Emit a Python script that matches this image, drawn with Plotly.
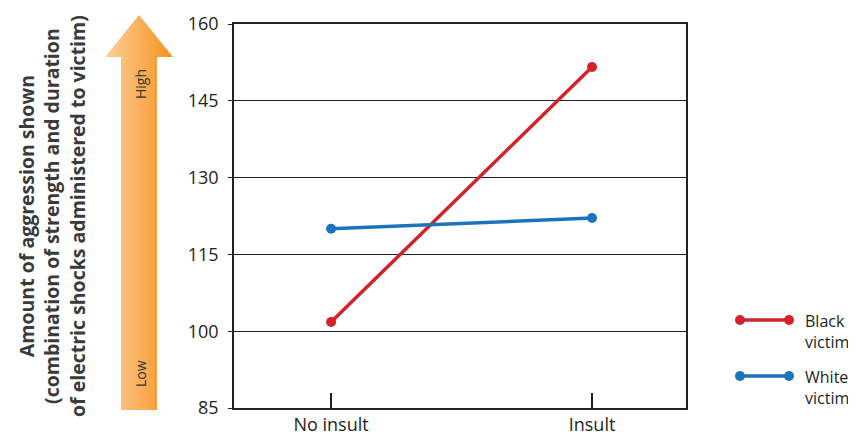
import base64
import plotly.graph_objects as go

conditions = ["No insult", "Insult"]
black_victim = [101.8, 151.6]
white_victim = [120.0, 122.1]
y_ticks = [85, 100, 115, 130, 145, 160]
series_names = ["Black<br>victim", "White<br>victim"]
series_colors = ["#d2232a", "#1c75bc"]

W, H = 856, 437
OFF = 8  # page body offset
# target plot area in screen pixels: x 234..686, y 24..408
L = 234 - OFF
T = 24 - OFF
PW, PH = 452, 384
R = W - L - PW
B = H - T - PH

def px(sx):
    return (sx - OFF - L) / PW

def py(sy):
    return (T + PH - (sy - OFF)) / PH

fig = go.Figure()
for name, vals, col in zip(series_names, [black_victim, white_victim], series_colors):
    fig.add_trace(go.Scatter(
        x=conditions, y=vals, mode="lines+markers", name=name,
        line=dict(color=col, width=3.5), marker=dict(color=col, size=10),
        showlegend=False, cliponaxis=False))

# Gradient arrow as SVG image
svg = ('<svg xmlns="http://www.w3.org/2000/svg" width="68" height="395" viewBox="0 0 68 395">'
       '<defs><linearGradient id="g" x1="0" y1="0" x2="1" y2="0">'
       '<stop offset="0" stop-color="#fdd09a"/><stop offset="1" stop-color="#f6921e"/>'
       '</linearGradient></defs>'
       '<polygon points="34,0 68,42 52,42 52,395 16,395 16,42 0,42" fill="url(#g)"/></svg>')
src = "data:image/svg+xml;base64," + base64.b64encode(svg.encode()).decode()
fig.add_layout_image(dict(source=src, xref="paper", yref="paper",
                          x=px(105), y=py(15), sizex=68 / PW, sizey=395 / PH,
                          xanchor="left", yanchor="top", sizing="stretch", layer="above"))

fig.add_annotation(text="High", xref="paper", yref="paper", x=px(140), y=py(84),
                   xanchor="center", yanchor="middle",
                   showarrow=False, textangle=-90, font=dict(size=14, color="#333333"))
fig.add_annotation(text="Low", xref="paper", yref="paper", x=px(140), y=py(374),
                   xanchor="center", yanchor="middle",
                   showarrow=False, textangle=-90, font=dict(size=14, color="#333333"))

fig.add_annotation(
    text="<b>Amount of aggression shown<br>(combination of strength and duration<br>of electric shocks administered to victim)</b>",
    xref="paper", yref="paper", x=px(52), y=py(216), xanchor="center", yanchor="middle",
    showarrow=False, textangle=-90,
    font=dict(size=19.5, color="#3a3a3a"), align="center")

# Custom legend
for i, (name, col) in enumerate(zip(series_names, series_colors)):
    ly = 320 + i * 56
    fig.add_shape(type="line", xref="paper", yref="paper", x0=px(740), x1=px(789),
                  y0=py(ly), y1=py(ly), line=dict(color=col, width=3.5))
    for cx in (740, 789):
        fig.add_shape(type="circle", xref="paper", yref="paper",
                      x0=px(cx - 5), x1=px(cx + 5), y0=py(ly - 5), y1=py(ly + 5),
                      fillcolor=col, line=dict(width=0))
    fig.add_annotation(text=name, xref="paper", yref="paper", x=px(803), y=py(ly - 12),
                       xanchor="left", yanchor="top", showarrow=False, align="left",
                       font=dict(size=16, color="#231f20"))

fig.update_layout(
    width=W, height=H, margin=dict(l=L, r=R, t=T, b=B, autoexpand=False),
    paper_bgcolor="white", plot_bgcolor="white",
    font=dict(family="Open Sans", color="#231f20"),
    xaxis=dict(type="category", range=[-0.372, 1.36], showgrid=False, automargin=False,
               ticks="inside", ticklen=15, tickwidth=1.5, tickcolor="#231f20",
               showline=True, linecolor="#231f20", linewidth=1.5, mirror=True,
               tickfont=dict(size=18), zeroline=False),
    yaxis=dict(range=[85, 160], tickvals=y_ticks, showgrid=True, gridcolor="#231f20",
               gridwidth=1.2, ticks="outside", ticklen=4, tickcolor="#231f20", automargin=False,
               showline=True, linecolor="#231f20", linewidth=1.5, mirror=True,
               tickfont=dict(size=18), zeroline=False, ticklabelstandoff=6),
)

fig.write_html("out.html")
